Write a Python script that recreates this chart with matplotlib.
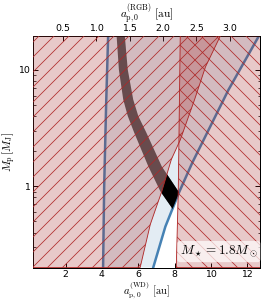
import numpy as np
import matplotlib
matplotlib.use("Agg")
import matplotlib.pyplot as plt
from matplotlib.patches import Polygon
from matplotlib.ticker import LogLocator, NullFormatter

# Semi-eje mayor en la fase WD frente a la masa del planeta
RGB_TO_WD = 3.68

# limite interior (linea azul izquierda)
inner_M = [0.2, 1.0, 5.2, 20.0]
inner_a = [4.06, 4.12, 4.23, 4.34]

# limite exterior (linea azul derecha)
outer_M = [0.2, 0.45, 0.89, 1.6, 6.75, 20.0]
outer_a = [6.82, 7.49, 8.25, 8.98, 10.97, 12.68]

# region barrida (rayado '/')
sweep_M = [0.2, 0.47, 0.91, 1.7, 2.5, 5.5, 10.6, 20.0]
sweep_a = [6.10, 6.66, 7.30, 7.82, 8.31, 9.09, 9.70, 10.55]

# limite derecho (rayado '\')
edge_M = [0.2, 0.9, 20.0]
edge_a = [8.09, 8.20, 8.31]

# banda observada
band_M = [20.0, 10.0, 5.54, 4.0, 2.89, 1.48, 0.906, 0.576]
band_lo = [4.80, 4.93, 5.17, 5.42, 5.77, 6.55, 7.21, 8.09]
band_hi = [5.25, 5.42, 5.72, 6.00, 6.44, 7.29, 8.20, 9.03]

plt.rcParams["mathtext.fontset"] = "cm"
plt.rcParams["hatch.linewidth"] = 0.6

fig = plt.figure(figsize=(3.0, 301 / 90), dpi=90)
ax = fig.add_axes([0.1222, 0.1110, 0.8407, 0.7694])
ax.set_yscale("log")

pink = (0.647, 0.165, 0.165, 0.25)
red = "#b02828"

# region entre las lineas azules
blue_poly = ax.fill(np.concatenate([inner_a, outer_a[::-1]]),
                    np.concatenate([inner_M, outer_M[::-1]]),
                    color="steelblue", alpha=0.15, lw=0, zorder=1)[0]
ax.plot(inner_a, inner_M, color="steelblue", lw=2, zorder=2)
ax.plot(outer_a, outer_M, color="steelblue", lw=2, zorder=2)

band_x = np.concatenate([band_lo, band_hi[::-1]])
band_y = np.concatenate([band_M, band_M[::-1]])
band = ax.fill(band_x, band_y, color="k", alpha=0.63, lw=0, zorder=3)[0]
band.set_clip_path(blue_poly)

# parte permitida de la banda en negro
allowed = Polygon(np.column_stack([np.concatenate([sweep_a, outer_a[::-1]]),
                                   np.concatenate([sweep_M, outer_M[::-1]])]),
                  transform=ax.transData)
black = ax.fill(band_x, band_y, color="k", lw=0, zorder=3.5)[0]
black.set_clip_path(allowed)

ax.fill_betweenx(sweep_M, -1, sweep_a, facecolor=pink, edgecolor=red,
                 hatch="//", lw=0.7, zorder=4)
ax.fill_betweenx(edge_M, edge_a, 14, facecolor=pink, edgecolor=red,
                 hatch="\\\\", lw=0.7, zorder=4)

ax.text(0.99, 0.035, r"$M_\star = 1.8 M_\odot$", transform=ax.transAxes,
        ha="right", va="bottom", fontsize=10.5, zorder=10,
        bbox=dict(boxstyle="round,pad=0.2", fc="white", ec="none", alpha=0.7))

ax.set_xlim(0.2, 12.7)
ax.set_ylim(0.2, 19.5)
ax.set_xticks([2, 4, 6, 8, 10, 12])
ax.set_yticks([1, 10])
ax.set_yticklabels(["1", "10"])
ax.yaxis.set_minor_locator(LogLocator(subs=np.arange(2, 10)))
ax.yaxis.set_minor_formatter(NullFormatter())
ax.tick_params(which="both", direction="in", top=False, right=True, labelsize=7.5)
ax.tick_params(which="major", length=4, pad=2.5)
ax.tick_params(which="minor", length=2)
ax.tick_params(axis="x", pad=2)

secax = ax.secondary_xaxis("top", functions=(lambda x: x / RGB_TO_WD,
                                             lambda x: x * RGB_TO_WD))
secax.set_xticks([0.5, 1.0, 1.5, 2.0, 2.5, 3.0])
secax.tick_params(direction="in", length=4, labelsize=7.5, pad=2)

ax.set_xlabel(r"$a_{\rm p,0}^{\rm (WD)}\ [{\rm au}]$", fontsize=8.5, labelpad=0)
secax.set_xlabel(r"$a_{\rm p,0}^{\rm (RGB)}\ [{\rm au}]$", fontsize=9, labelpad=5)
ax.set_ylabel(r"$M_{\rm p}\,[M_{\rm J}]$", fontsize=9, labelpad=0)

fig.savefig("out.png", dpi=90)
